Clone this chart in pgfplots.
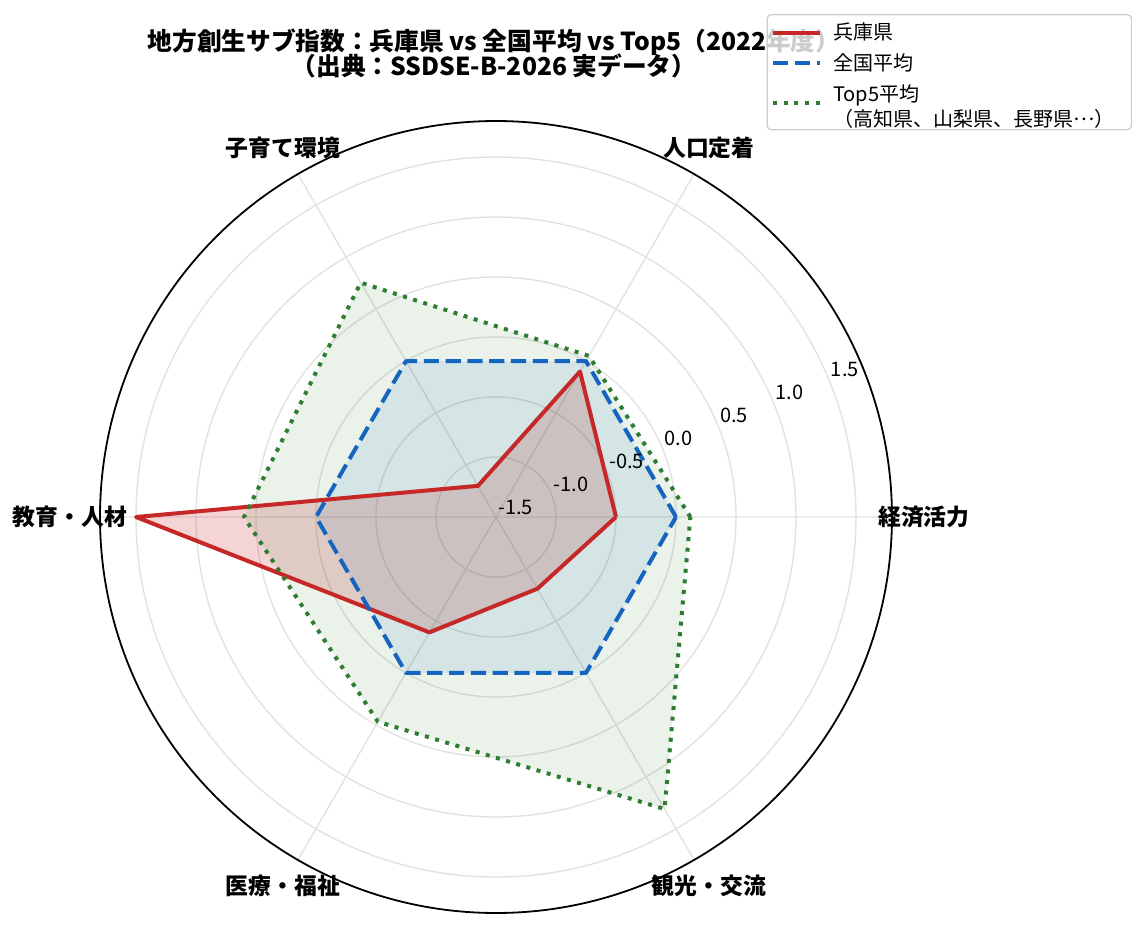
\documentclass[border=0pt]{standalone}
\usepackage{fontspec}
\setmainfont{Noto Sans CJK JP}
\usepackage{pgfplots}
\pgfplotsset{compat=1.18}
\usepgfplotslibrary{polar}
\definecolor{cred}{HTML}{C62828}
\definecolor{cblue}{HTML}{1565C0}
\definecolor{cgreen}{HTML}{2E7D32}
\definecolor{cgrid}{HTML}{E2E2E2}
\begin{document}
\begin{tikzpicture}
\useasboundingbox (-248pt,-205pt) rectangle (325.5pt,258.5pt);
% title
\node[font=\bfseries\fontsize{12.35}{14}\selectfont, anchor=base] at (-1pt,233pt) {地方創生サブ指数：兵庫県 vs 全国平均 vs Top5（2022年度）};
\node[font=\bfseries\fontsize{12.35}{14}\selectfont, anchor=base] at (-1pt,220.5pt) {（出典：SSDSE-B-2026 実データ）};
\begin{polaraxis}[
  at={(0pt,0pt)}, anchor=center,
  scale only axis, width=396pt, height=396pt,
  xmin=0, xmax=360,
  ymin=0, ymax=3.3,
  xtick={0,60,...,300},
  ytick={0.5,1,...,3},
  xticklabels={}, yticklabels={},
  xticklabel style={opacity=0}, yticklabel style={opacity=0},
  major tick length=0pt,
  grid=major,
  major grid style={draw=cgrid, line width=0.7pt},
  axis line style={black, line width=0.9pt},
  y axis line style={draw=none},
  y filter/.expression={y+1.5},
  clip=false,
  legend cell align=left,
  legend image code/.code={\draw[#1] (0pt,0pt) -- (23.5pt,0pt);},
  legend style={at={(axis description cs:1.303,1.135)}, anchor=north east,
    draw=black!20, line width=0.6pt, fill=white, fill opacity=0.8, text opacity=1,
    rounded corners=2pt, font=\fontsize{10}{12.5}\selectfont,
    inner xsep=2pt, inner ysep=2.5pt, row sep=2.4pt,
    nodes={inner sep=1.5pt},
    /tikz/every odd column/.append style={column sep=4pt}},
]
% fills
\addplot[draw=none, fill=cred, fill opacity=0.2, forget plot] coordinates {
  (0,-0.50) (60,-0.10) (120,-1.20) (180,1.50) (240,-0.39) (300,-0.81) (360,-0.50)};
\addplot[draw=none, fill=cblue, fill opacity=0.1, forget plot] coordinates {
  (0,0) (60,0) (120,0) (180,0) (240,0) (300,0) (360,0)};
\addplot[draw=none, fill=cgreen, fill opacity=0.1, forget plot] coordinates {
  (0,0.12) (60,0.05) (120,0.755) (180,0.60) (240,0.47) (300,1.31) (360,0.12)};
% Hyogo
\addplot[cred, line width=2pt, line join=round] coordinates {
  (0,-0.50) (60,-0.10) (120,-1.20) (180,1.50) (240,-0.39) (300,-0.81) (360,-0.50)};
\addlegendentry{兵庫県}
% national average
\addplot[cblue, line width=2pt, line join=round, dash pattern=on 7.6pt off 3.3pt] coordinates {
  (0,0) (60,0) (120,0) (180,0) (240,0) (300,0) (360,0)};
\addlegendentry{全国平均}
% top5
\addplot[cgreen, line width=2pt, line join=round, line cap=butt, dash pattern=on 2pt off 3.3pt] coordinates {
  (0,0.12) (60,0.05) (120,0.755) (180,0.60) (240,0.47) (300,1.31) (360,0.12)};
\addlegendentry{\begin{tabular}{@{}l@{}}Top5平均\\（高知県、山梨県、長野県\raisebox{0.32em}{…}）\kern5pt\rule[-8.5pt]{0pt}{0pt}\end{tabular}}
\end{polaraxis}
% category labels
\begin{scope}[every node/.style={font=\bfseries\fontsize{11.4}{13}\selectfont, anchor=center}]
\node at (0:214pt) {経済活力};
\node at (60:213pt) {人口定着};
\node at (120:213pt) {子育て環境};
\node at (180:213pt) {教育・人材};
\node at (240:213pt) {医療・福祉};
\node at (300:213pt) {観光・交流};
\end{scope}
% radial tick labels
\begin{scope}[every node/.style={font=\fontsize{10}{12}\selectfont, anchor=south west, inner sep=1pt}]
\node at (22.5:0pt) {-1.5};
\node at (22.5:30pt) {-1.0};
\node at (22.5:60pt) {-0.5};
\node at (22.5:90pt) {0.0};
\node at (22.5:120pt) {0.5};
\node at (22.5:150pt) {1.0};
\node at (22.5:180pt) {1.5};
\end{scope}
\end{tikzpicture}
\end{document}
